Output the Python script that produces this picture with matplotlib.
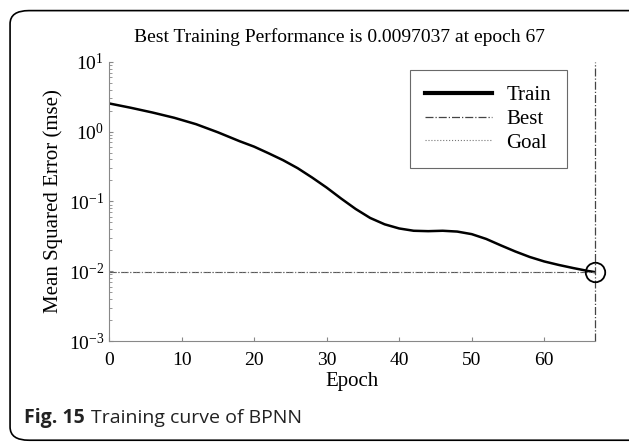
import matplotlib
matplotlib.use("Agg")
import matplotlib.pyplot as plt
from matplotlib.patches import FancyBboxPatch

plt.rcParams['font.family'] = ['Liberation Serif', 'DejaVu Serif']
plt.rcParams['mathtext.fontset'] = 'stix'

# values
epochs = [0, 3, 6, 9, 12, 15, 18, 20, 22, 24, 26, 28, 30, 32, 34, 36, 38,
          40, 42, 44, 46, 48, 50, 52, 54, 56, 58, 60, 62, 64, 66, 67]
train_mse = [2.54, 2.2, 1.88, 1.58, 1.28, 0.98, 0.73, 0.61, 0.49, 0.39, 0.30,
             0.22, 0.158, 0.11, 0.078, 0.058, 0.047, 0.041, 0.038, 0.0375,
             0.038, 0.037, 0.034, 0.029, 0.0235, 0.0192, 0.016, 0.0138,
             0.0123, 0.0111, 0.0101, 0.0097]
best_epoch = 67
best_perf = 0.0097037
goal = 0.0097037

fig = plt.figure(figsize=(6.29, 4.42), dpi=100)
ax = fig.add_axes([0.1733, 0.2285, 0.7727, 0.6315])

ax.plot(epochs, train_mse, color='black', lw=1.8, label='Train')
ax.axvline(best_epoch, color='#444444', lw=0.9, ls='-.', label='Best',
           clip_on=False)
ax.axhline(best_perf, color='#555555', lw=0.8, ls='-.')
ax.axhline(goal, color='#777777', lw=0.8, ls=':', label='Goal')
ax.plot([best_epoch], [best_perf], 'o', mfc='none', mec='black', ms=14, mew=1.3,
        clip_on=False)

ax.set_yscale('log')
ax.set_ylim(1e-3, 1e1)
ax.set_xlim(0, 67)
ax.set_xticks([0, 10, 20, 30, 40, 50, 60])
ax.set_yticks([1e-3, 1e-2, 1e-1, 1e0, 1e1])

for s in ['top', 'right']:
    ax.spines[s].set_visible(False)
for s in ['left', 'bottom']:
    ax.spines[s].set_color('#888888')
ax.tick_params(direction='in', colors='#888888', labelcolor='black',
               labelsize=14, length=3)
ax.tick_params(axis='x', pad=8)
ax.tick_params(which='minor', direction='in', colors='#888888', length=2)

fig.text(0.539, 0.916, 'Best Training Performance is 0.0097037 at epoch 67',
         fontsize=14, ha='center', va='center')
ax.set_xlabel('Epoch', fontsize=15, labelpad=2)
ax.set_ylabel('Mean Squared Error (mse)', fontsize=15)

leg = ax.legend(loc='upper right', bbox_to_anchor=(0.942, 0.971), fontsize=15,
                fancybox=False, edgecolor='#444444', handlelength=3.2,
                labelspacing=0.2, borderpad=0.75, handletextpad=0.7,
                borderaxespad=0)
leg.get_frame().set_linewidth(0.8)
leg.get_lines()[0].set_linewidth(3)

border = FancyBboxPatch((0.016, 0.004), 1.2, 0.972, transform=fig.transFigure,
                        boxstyle='round,pad=0,rounding_size=0.03',
                        fill=False, edgecolor='black', lw=1.2)
fig.patches.append(border)

fig.text(0.038, 0.054, 'Fig. 15', fontsize=14, fontweight='bold',
         family='Open Sans', color='#222222', va='center')
fig.text(0.145, 0.054, 'Training curve of BPNN', fontsize=14,
         family='Open Sans', color='#222222', va='center')

fig.savefig('out.png', dpi=100)
